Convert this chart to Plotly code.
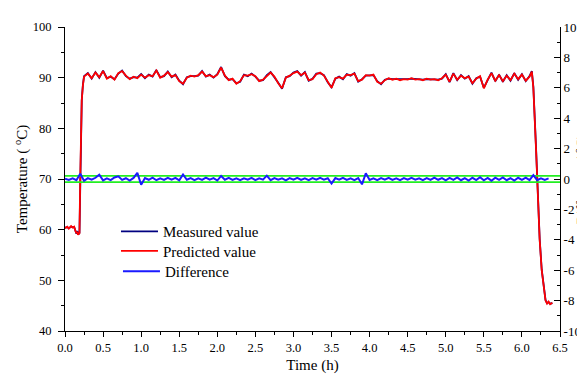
import plotly.graph_objects as go

# ---------------- data ----------------
time_pred = [0.00, 0.03, 0.05, 0.08, 0.10, 0.12, 0.14, 0.15, 0.16, 0.17, 0.18, 0.19,
             0.20, 0.21, 0.22, 0.235, 0.25,
             0.30, 0.35, 0.40, 0.45, 0.50, 0.55, 0.60, 0.65, 0.70, 0.75, 0.80, 0.85,
             0.90, 0.95, 1.00, 1.05, 1.10, 1.15, 1.20, 1.25, 1.30, 1.35, 1.40, 1.45,
             1.50, 1.55, 1.60, 1.65, 1.70, 1.75, 1.80, 1.85, 1.90, 1.95, 2.00, 2.05,
             2.10, 2.15, 2.20, 2.25, 2.30, 2.35, 2.40, 2.45, 2.50, 2.55, 2.60, 2.65,
             2.70, 2.75, 2.80, 2.85, 2.90, 2.95, 3.00, 3.05, 3.10, 3.15, 3.20, 3.25,
             3.30, 3.35, 3.40, 3.45, 3.50, 3.55, 3.60, 3.65, 3.70, 3.75, 3.80, 3.85,
             3.90, 3.95, 4.00, 4.05, 4.10, 4.15, 4.20, 4.25, 4.30, 4.35, 4.40, 4.45,
             4.50, 4.55, 4.60, 4.65, 4.70, 4.75, 4.80, 4.85, 4.90, 4.95, 5.00, 5.05,
             5.10, 5.15, 5.20, 5.25, 5.30, 5.35, 5.40, 5.45, 5.50, 5.55, 5.60, 5.65,
             5.70, 5.75, 5.80, 5.85, 5.90, 5.95, 6.00, 6.05, 6.10,
             6.13, 6.15, 6.185, 6.20, 6.215, 6.233, 6.26, 6.28, 6.31, 6.33, 6.35, 6.37, 6.40]

predicted = [60.3, 60.6, 60.2, 60.7, 60.4, 60.6, 59.6, 59.3, 59.6, 59.0, 59.2, 59.3,
             70.0, 80.0, 85.5, 88.5, 90.2,
             90.8, 89.9, 91.0, 90.1, 91.3, 89.8, 90.3, 89.6, 90.9, 91.3, 90.4, 89.7,
             90.2, 89.9, 90.6, 90.0, 90.5, 90.3, 91.4, 90.0, 90.4, 91.1, 90.2, 90.5,
             89.3, 88.8, 90.0, 90.4, 90.2, 90.5, 91.2, 90.3, 90.5, 90.1, 90.6, 92.0,
             90.4, 89.5, 89.8, 88.8, 89.3, 90.5, 90.4, 90.7, 90.3, 89.3, 89.6, 90.4,
             91.0, 90.2, 88.9, 87.9, 90.0, 90.4, 90.9, 91.2, 90.5, 91.0, 89.5, 89.7,
             90.7, 91.0, 90.4, 89.2, 88.0, 89.9, 90.1, 89.8, 90.6, 90.5, 90.8, 89.3,
             89.6, 90.5, 90.4, 90.6, 89.2, 88.8, 89.5, 89.9, 89.6, 89.8, 89.5, 89.7,
             89.6, 89.9, 89.6, 89.7, 89.5, 89.8, 89.6, 89.7, 89.5, 89.9, 90.6, 89.2,
             90.8, 89.6, 90.4, 89.9, 90.2, 88.9, 89.8, 90.3, 87.9, 89.6, 90.9, 89.4,
             90.5, 89.3, 90.4, 89.5, 90.8, 89.7, 90.6, 89.4, 90.2,
             91.2, 88.0, 76.0, 70.0, 64.0, 58.0, 52.0, 49.0, 46.0, 45.4, 45.8, 45.3, 45.6]

measured = [60.4, 60.5, 60.3, 60.6, 60.5, 60.5, 59.7, 59.2, 59.7, 59.1, 59.1, 59.4,
            70.3, 80.2, 85.6, 88.6, 90.3,
            90.9, 89.8, 91.1, 90.0, 91.4, 89.9, 90.2, 89.7, 90.8, 91.4, 90.3, 89.8,
            90.1, 90.0, 90.7, 89.9, 90.6, 90.2, 91.5, 90.1, 90.3, 91.2, 90.1, 90.6,
            89.4, 88.7, 90.1, 90.3, 90.3, 90.4, 91.3, 90.2, 90.6, 90.0, 90.7, 92.1,
            90.3, 89.6, 89.7, 88.9, 89.2, 90.6, 90.3, 90.8, 90.2, 89.4, 89.5, 90.5,
            91.1, 90.1, 89.0, 87.8, 90.1, 90.3, 91.0, 91.3, 90.4, 91.1, 89.4, 89.8,
            90.8, 90.9, 90.5, 89.1, 88.1, 89.8, 90.2, 89.7, 90.7, 90.4, 90.9, 89.2,
            89.7, 90.4, 90.5, 90.5, 89.3, 88.7, 89.6, 89.8, 89.7, 89.7, 89.6, 89.6,
            89.7, 89.8, 89.7, 89.6, 89.6, 89.7, 89.7, 89.6, 89.6, 89.8, 90.7, 89.1,
            90.9, 89.5, 90.5, 89.8, 90.3, 88.8, 89.9, 90.2, 88.0, 89.5, 91.0, 89.3,
            90.6, 89.2, 90.5, 89.4, 90.9, 89.6, 90.7, 89.3, 90.3,
            91.3, 88.2, 76.3, 70.2, 64.1, 58.2, 52.1, 49.1, 46.1, 45.5, 45.7, 45.4, 45.5]

time_diff = [0.00, 0.05, 0.10, 0.15, 0.20, 0.25, 0.30, 0.35, 0.40, 0.45, 0.50, 0.55,
             0.60, 0.65, 0.70, 0.75, 0.80, 0.85, 0.90, 0.95, 1.00, 1.05, 1.10, 1.15,
             1.20, 1.25, 1.30, 1.35, 1.40, 1.45, 1.50, 1.55, 1.60, 1.65, 1.70, 1.75,
             1.80, 1.85, 1.90, 1.95, 2.00, 2.05, 2.10, 2.15, 2.20, 2.25, 2.30, 2.35,
             2.40, 2.45, 2.50, 2.55, 2.60, 2.65, 2.70, 2.75, 2.80, 2.85, 2.90, 2.95,
             3.00, 3.05, 3.10, 3.15, 3.20, 3.25, 3.30, 3.35, 3.40, 3.45, 3.50, 3.55,
             3.60, 3.65, 3.70, 3.75, 3.80, 3.85, 3.90, 3.95, 4.00, 4.05, 4.10, 4.15,
             4.20, 4.25, 4.30, 4.35, 4.40, 4.45, 4.50, 4.55, 4.60, 4.65, 4.70, 4.75,
             4.80, 4.85, 4.90, 4.95, 5.00, 5.05, 5.10, 5.15, 5.20, 5.25, 5.30, 5.35,
             5.40, 5.45, 5.50, 5.55, 5.60, 5.65, 5.70, 5.75, 5.80, 5.85, 5.90, 5.95,
             6.00, 6.05, 6.10, 6.15, 6.20, 6.25, 6.30, 6.35]

difference = [0.02, -0.06, 0.05, -0.08, 0.35, -0.12, 0.06, -0.05, 0.08, 0.28, -0.09, 0.04,
              -0.07, 0.10, 0.18, -0.06, 0.05, -0.10, 0.07, 0.40, -0.38, 0.06, -0.05, 0.09,
              -0.08, 0.04, -0.06, 0.08, -0.04, 0.07, -0.09, 0.30, -0.05, 0.06, -0.08, 0.05,
              -0.06, 0.09, -0.04, 0.06, -0.10, 0.20, -0.05, 0.07, -0.06, 0.04, -0.08, 0.05,
              -0.05, 0.08, -0.07, 0.05, -0.04, 0.22, -0.08, 0.06, -0.05, 0.04, -0.09, 0.06,
              -0.05, 0.08, -0.06, 0.04, -0.07, 0.06, -0.05, 0.07, -0.04, 0.05, -0.30, 0.06,
              -0.05, 0.08, -0.06, 0.04, -0.08, 0.06, -0.35, 0.38, -0.06, 0.05, -0.07, 0.06,
              -0.05, 0.08, -0.06, 0.04, -0.07, 0.06, -0.05, 0.07, -0.04, 0.05, -0.08, 0.06,
              -0.06, 0.09, -0.05, 0.06, -0.09, 0.07, -0.06, 0.10, -0.08, 0.06, -0.10, 0.08,
              -0.07, 0.12, -0.09, 0.07, -0.11, 0.09, -0.06, 0.10, -0.08, 0.06, -0.10, 0.08,
              -0.06, 0.09, -0.07, 0.25, -0.08, 0.05, -0.06, 0.04]

limit_time = [0.0, 6.5]
upper_limit = [0.2, 0.2]
lower_limit = [-0.2, -0.2]

x_tickvals = [0.0, 0.5, 1.0, 1.5, 2.0, 2.5, 3.0, 3.5, 4.0, 4.5, 5.0, 5.5, 6.0, 6.5]
x_ticktext = ["0.0", "0.5", "1.0", "1.5", "2.0", "2.5", "3.0", "3.5", "4.0", "4.5",
              "5.0", "5.5", "6.0", "6.5"]
y_tickvals = [40, 50, 60, 70, 80, 90, 100]
y2_tickvals = [-10, -8, -6, -4, -2, 0, 2, 4, 6, 8, 10]
y2_ticktext = ["-10", "-8", "-6", "-4", "-2", "0", "2", "4", "6", "8", "10"]

# ---------------- figure ----------------
FONT = "Liberation Serif, Times New Roman, serif"
fig = go.Figure()

fig.add_trace(go.Scatter(x=limit_time, y=upper_limit, mode="lines", yaxis="y2",
                         line=dict(color="#22EE22", width=1.8), showlegend=False,
                         hoverinfo="skip"))
fig.add_trace(go.Scatter(x=limit_time, y=lower_limit, mode="lines", yaxis="y2",
                         line=dict(color="#22EE22", width=1.8), showlegend=False,
                         hoverinfo="skip"))
fig.add_trace(go.Scatter(x=time_diff, y=difference, mode="lines", yaxis="y2",
                         name="Difference", legend="legend3",
                         line=dict(color="#1a1aff", width=2)))
fig.add_trace(go.Scatter(x=time_pred, y=measured, mode="lines", name="Measured value",
                         legend="legend", line=dict(color="#000080", width=1.8)))
fig.add_trace(go.Scatter(x=time_pred, y=predicted, mode="lines", name="Predicted value",
                         legend="legend2", line=dict(color="#FF0000", width=1.8)))

TICKFONT = dict(family=FONT, size=12.5, color="black")
RTICKFONT = dict(family=FONT, size=13, color="black")
LEGFONT = dict(family=FONT, size=15, color="black")


def leg(x, y):
    return dict(x=x, y=y, xanchor="left", yanchor="middle", bgcolor="rgba(0,0,0,0)",
                font=LEGFONT, itemwidth=37, borderwidth=0)


fig.update_layout(
    width=585, height=375,
    margin=dict(l=57, r=33, t=16, b=47),
    paper_bgcolor="white", plot_bgcolor="white",
    font=dict(family=FONT, size=14, color="black"),
    showlegend=True,
    legend=leg(0.103, 0.327),
    legend2=leg(0.103, 0.263),
    legend3=leg(0.107, 0.196),
    xaxis=dict(range=[0, 6.5], tickvals=x_tickvals, ticktext=x_ticktext,
               tickfont=TICKFONT,
               showline=True, linecolor="black", linewidth=1, mirror=False,
               ticks="outside", ticklen=5, tickcolor="black", showgrid=False,
               zeroline=False,
               minor=dict(dtick=0.25, ticks="outside", ticklen=3, tickcolor="black"),
               title=dict(text="Time (h)", font=dict(size=15), standoff=5)),
    yaxis=dict(range=[40, 100], tickvals=y_tickvals, tickfont=TICKFONT,
               showline=True, linecolor="black", linewidth=1,
               ticks="outside", ticklen=6, tickcolor="black", showgrid=False,
               zeroline=False, ticklabelstandoff=4,
               minor=dict(dtick=5, ticks="outside", ticklen=3, tickcolor="black"),
               title=dict(text="Temperature ( <sup>o</sup>C)", font=dict(size=15),
                          standoff=1)),
    yaxis2=dict(range=[-10, 10], tickvals=y2_tickvals, ticktext=y2_ticktext,
                overlaying="y", side="right", anchor="x",
                showline=True, linecolor="black", linewidth=1,
                ticks="inside", ticklen=6, tickcolor="black", showgrid=False,
                zeroline=False, tickfont=RTICKFONT,
                minor=dict(dtick=1, ticks="inside", ticklen=3, tickcolor="black")),
    annotations=[dict(text="Difference ( <sup>o</sup>C)", xref="paper", yref="paper",
                      x=1.0645, y=0.5, xanchor="right", yanchor="middle",
                      textangle=-90, showarrow=False, borderpad=0,
                      font=dict(family=FONT, size=14))],
)

fig.write_html("out.html")
